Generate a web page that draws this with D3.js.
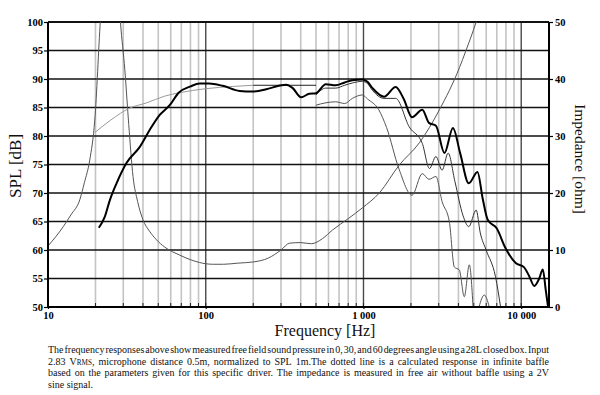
<!DOCTYPE html>
<html><head><meta charset="utf-8">
<script src="https://cdn.jsdelivr.net/npm/d3@7"></script>
<style>body{margin:0;background:#fff}</style>
</head><body>
<svg id="c" width="600" height="395"></svg>
<script>
// ---------- data ----------
const splTicks = [50,55,60,65,70,75,80,85,90,95,100];
const impTicks = [0,10,20,30,40,50];
const freqTickValues = [10,100,1000,10000];
const freqTickLabels = ["10","100","1 000","10 000"];
const minorFreqs = [20,30,40,50,60,70,80,90,200,300,400,500,600,700,800,900,2000,3000,4000,5000,6000,7000,8000,9000];

// 0 degrees (thick)
const onAxisF  = [21,22.9,24.7,27.2,31.5,38.2,44.2,51.1,59.1,67.4,80,91.5,105,128,164,198,242,290,324,356,402,453,500,577,666,760,850,985,1060,1140,1350,1600,1800,2030,2360,2600,2880,3260,3690,4100,4650,5280,5700,6130,6990,7960,9230,10400,11200,12100,13000,13700,14300,14800];
const onAxisDb = [63.9,65.8,68.8,71.7,75.3,78.1,81.1,83.7,85.4,87.6,88.7,89.2,89.2,88.8,87.9,87.8,88.2,88.8,89.0,88.4,86.8,87.4,87.5,89.1,88.9,89.4,89.8,89.9,89.5,88.4,86.9,88.6,86.5,83.3,84.6,82.3,81.8,77.0,81.4,77.0,71.7,73.7,69.0,65.3,63.8,60.3,57.7,57.0,55.5,53.7,55.0,56.6,53.0,50.0];

// 30 degrees
const deg30F  = [500,577,666,760,850,985,1060,1140,1350,1600,1950,2360,2620,2880,3150,3440,3800,4280,4650,5180,5500,5990,6870,7400];
const deg30Db = [87.2,88.4,88.4,88.9,89.3,89.6,89.2,88.0,86.6,86.6,81.6,78.7,74.3,76.4,74.0,77.0,72.0,66.0,64.1,67.0,63.0,60.0,55.3,50.0];

// 60 degrees
const deg60F  = [500,570,666,760,850,985,1060,1250,1400,1680,2030,2360,2600,2880,3150,3500,3767,4052,4355,4688,4950];
const deg60Db = [85.4,85.8,86.0,85.7,86.6,87.2,86.5,84.6,81.5,74.2,69.6,73.4,72.4,72.9,68.5,65.0,57.0,56.5,51.8,57.4,50.0];
const deg60bF  = [5400,5831,6272];
const deg60bDb = [50.0,52.1,50.0];

// calculated (infinite baffle) response
const calcF  = [19.8,25,33,42,55,68.5,100,150,200];
const calcDb = [80.6,82.8,84.9,85.8,87.0,87.6,88.3,88.7,88.9];
const calcFlatF  = [200,500];
const calcFlatDb = [88.9,88.9];

// impedance (ohm)
const impF   = [10,12.5,14,15.9,17,18.4,19.8,21.5,22.5,24,25.5,27,28.8,30.7,32.5,34.6,37,40,44,48.7,55,68.5,80,91.5,110,130,160,200,250,300,340,400,467,550,636,800,985,1260,1685,2260,3030,4060,4450,5180,5600];
const impOhm = [10.7,14.1,16.2,18.8,21.8,25.8,32.8,50.4,58,70,74,63,50,41.6,32,22.9,18.5,15.3,13.3,11.8,10.5,9.1,8.3,7.8,7.5,7.5,7.7,7.9,8.6,10.0,11.2,11.3,11.1,12.0,13.5,15.5,17.4,20.0,24.9,28.8,34.6,42.0,44.9,50.0,53.0];

const captionLines = [
 "The frequency responses above show measured free field sound pressure in 0, 30, and 60 degrees angle using a 28L closed box. Input",
 "2.83 V{RMS}, microphone distance 0.5m, normalized to SPL 1m.The dotted line is a calculated response in infinite baffle",
 "based on the parameters given for this specific driver. The impedance is measured in free air without baffle using a 2V",
 "sine signal."
];

// ---------- chart ----------
const svg = d3.select("#c");
const L = 48, R = 549, T = 22, B = 307;
const x = d3.scaleLog().domain([10,15000]).range([L,R]);
const y = d3.scaleLinear().domain([50,100]).range([B,T]);
const yImp = d3.scaleLinear().domain([0,50]).range([B,T]);

svg.append("defs").append("clipPath").attr("id","clip")
  .append("rect").attr("x",L).attr("y",T).attr("width",R-L).attr("height",B-T);

const grid = svg.append("g");
grid.selectAll("line.minor").data(minorFreqs).join("line").attr("class","minor")
  .attr("x1",d=>x(d)).attr("x2",d=>x(d)).attr("y1",T).attr("y2",B)
  .attr("stroke","#c4c4c4").attr("stroke-width",1.6);
grid.selectAll("line.major").data(freqTickValues.slice(1)).join("line").attr("class","major")
  .attr("x1",d=>x(d)).attr("x2",d=>x(d)).attr("y1",T).attr("y2",B)
  .attr("stroke","#4a4a4a").attr("stroke-width",1.4);
grid.selectAll("line.h").data(splTicks).join("line").attr("class","h")
  .attr("x1",L).attr("x2",R).attr("y1",d=>y(d)).attr("y2",d=>y(d))
  .attr("stroke","#111").attr("stroke-width",d=>(d===50||d===100)?2:1.5);
// minor ticks on bottom axis
grid.selectAll("line.mt").data(minorFreqs.concat(freqTickValues)).join("line").attr("class","mt")
  .attr("x1",d=>x(d)).attr("x2",d=>x(d)).attr("y1",B-4).attr("y2",B)
  .attr("stroke","#222").attr("stroke-width",1);

const curves = svg.append("g").attr("clip-path","url(#clip)");
function lineOf(fs, vs, scale){
  const pts = fs.map((f,i)=>[x(f), scale(vs[i])]);
  return d3.line().curve(d3.curveMonotoneX)(pts);
}
curves.append("path").attr("d",lineOf(impF,impOhm,yImp)).attr("fill","none").attr("stroke","#555").attr("stroke-width",1);
curves.append("path").attr("d",lineOf(calcF,calcDb,y)).attr("fill","none").attr("stroke","#9a9a9a").attr("stroke-width",1);
curves.append("path").attr("d",lineOf(calcFlatF,calcFlatDb,y)).attr("fill","none").attr("stroke","#222").attr("stroke-width",1);
curves.append("path").attr("d",lineOf(deg60F,deg60Db,y)).attr("fill","none").attr("stroke","#555").attr("stroke-width",1);
curves.append("path").attr("d",lineOf(deg60bF,deg60bDb,y)).attr("fill","none").attr("stroke","#555").attr("stroke-width",1);
curves.append("path").attr("d",lineOf(deg30F,deg30Db,y)).attr("fill","none").attr("stroke","#333").attr("stroke-width",1);
curves.append("path").attr("d",lineOf(onAxisF,onAxisDb,y)).attr("fill","none").attr("stroke","#000").attr("stroke-width",2);

// axes
const tickFont = "Liberation Serif, Times New Roman, serif";
const ax = svg.append("g");
const gl = ax.append("g").attr("transform",`translate(${L},0)`)
  .call(d3.axisLeft(y).tickValues(splTicks).tickSize(4).tickPadding(1));
const gr = ax.append("g").attr("transform",`translate(${R},0)`)
  .call(d3.axisRight(yImp).tickValues(impTicks).tickSize(4).tickPadding(2));
const gb = ax.append("g").attr("transform",`translate(0,${B})`)
  .call(d3.axisBottom(x).tickValues(freqTickValues).tickFormat((d,i)=>freqTickLabels[i]).tickSize(2).tickPadding(3));
[gl,gr,gb].forEach(g=>{
  g.select(".domain").attr("stroke","#000").attr("stroke-width",2);
  g.selectAll(".tick line").attr("stroke","#000").attr("stroke-width",1.2);
  g.selectAll("text").attr("font-family",tickFont).attr("font-weight","bold").attr("font-size",10.5).attr("fill","#000");
});
gl.select(".domain").attr("d",`M0,${T}V${B}`);
gr.select(".domain").attr("d",`M0,${T}V${B}`);
gb.select(".domain").attr("d",`M${L},0H${R}`);

// axis titles
const titleFont = "Liberation Serif, Times New Roman, serif";
svg.append("text").attr("transform","translate(21,166) rotate(-90)")
  .attr("text-anchor","middle").attr("font-family",titleFont).attr("font-size",17)
  .attr("fill","#111").text("SPL [dB]");
svg.append("text").attr("transform","translate(575,159) rotate(90)")
  .attr("text-anchor","middle").attr("font-family",titleFont).attr("font-size",15.5)
  .attr("fill","#111").text("Impedance [ohm]");
svg.append("text").attr("x",325).attr("y",336)
  .attr("text-anchor","middle").attr("font-family",titleFont).attr("font-size",16)
  .attr("fill","#111").text("Frequency [Hz]");

// caption, justified
const capX = 48, capW = 501, capY0 = 353, capDY = 11.6;
function addWord(g, word, xPos, yPos){
  const t = g.append("text").attr("x",xPos).attr("y",yPos)
    .attr("font-family",titleFont).attr("font-size",10).attr("fill","#111");
  const parts = word.split(/(\{[^}]+\})/).filter(s=>s.length);
  parts.forEach(p=>{
    if(p.startsWith("{")) t.append("tspan").attr("font-size",7.2).text(p.slice(1,-1));
    else t.append("tspan").text(p);
  });
  return t;
}
const cap = svg.append("g");
captionLines.forEach((line,li)=>{
  const yPos = capY0 + li*capDY;
  const words = line.split(" ");
  const last = li === captionLines.length-1;
  const nodes = words.map(w=>addWord(cap,w,0,yPos));
  const widths = nodes.map(n=>n.node().getComputedTextLength());
  const sum = d3.sum(widths);
  let gap = last ? 2.6 : (capW - sum)/(words.length-1);
  let scale = 1;
  if(!last && gap < 1){ gap = 1; scale = (capW - gap*(words.length-1))/sum; }
  let cx = capX;
  nodes.forEach((n,i)=>{
    if(scale !== 1){
      n.attr("x",cx).attr("textLength",widths[i]*scale).attr("lengthAdjust","spacingAndGlyphs");
      cx += widths[i]*scale + gap;
    } else {
      n.attr("x",cx); cx += widths[i] + gap;
    }
  });
});
</script>
</body></html>
